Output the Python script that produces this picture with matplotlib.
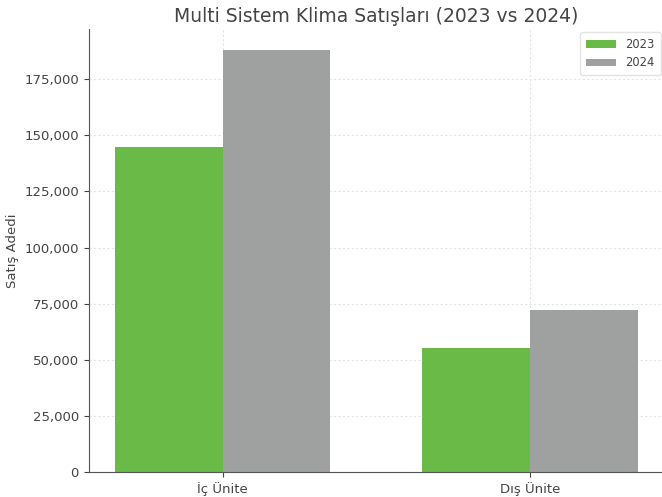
import numpy as np
import matplotlib.pyplot as plt

# data
categories = ["İç Ünite", "Dış Ünite"]
years = ["2023", "2024"]
sales_2023 = [145000, 55500]
sales_2024 = [188000, 72000]

GREEN = "#6aba48"
GRAY = "#9fa1a1"
TEXT = "#444444"

plt.rcParams['font.family'] = ['DejaVu Sans']
plt.rcParams['text.color'] = TEXT
plt.rcParams['axes.labelcolor'] = TEXT
plt.rcParams['xtick.color'] = TEXT
plt.rcParams['ytick.color'] = TEXT

fig = plt.figure(figsize=(6.62, 4.97), dpi=100)
ax = fig.add_axes([0.134, 0.050, 0.869, 0.892])

x = np.arange(len(categories))
width = 0.35
ax.bar(x - width / 2, sales_2023, width, color=GREEN, label=years[0], zorder=2)
ax.bar(x + width / 2, sales_2024, width, color=GRAY, label=years[1], zorder=2)

ax.set_xticks(x)
ax.set_xticklabels(categories, fontsize=9.5)
ax.yaxis.set_major_formatter(plt.FuncFormatter(lambda v, p: f"{int(v):,}"))
ax.tick_params(axis='y', labelsize=9.5)
ax.set_ylabel("Satış Adedi", fontsize=9.5)
ax.set_title("Multi Sistem Klima Satışları (2023 vs 2024)", fontsize=13.5, pad=5)

ax.grid(True, linestyle=(0, (2, 2)), color="#e4e4e4", linewidth=0.8, zorder=0)
for side in ['top', 'right']:
    ax.spines[side].set_visible(False)
for side in ['left', 'bottom']:
    ax.spines[side].set_color("#555555")

ax.legend(loc='upper right', fontsize=8.3, frameon=True, edgecolor="#dddddd",
          handlelength=2.6, handleheight=0.6, labelspacing=0.45, borderpad=0.5,
          borderaxespad=0.3)

fig.savefig("out.png", dpi=100)
